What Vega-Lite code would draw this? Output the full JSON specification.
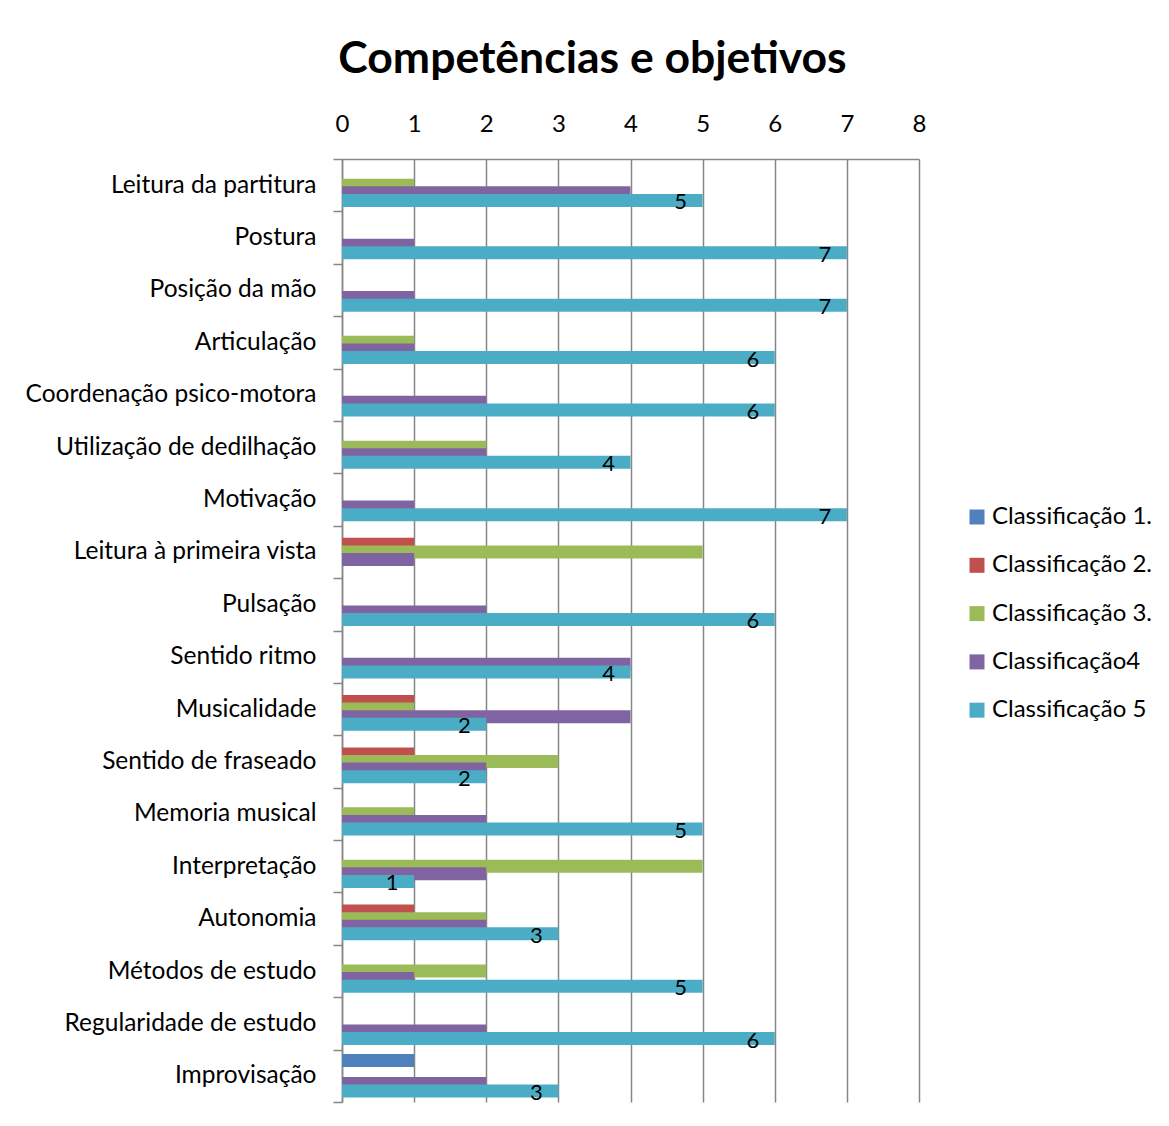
{
  "$schema": "https://vega.github.io/schema/vega-lite/v6.json",
  "autosize": {"type": "none"},
  "padding": {"left": 342, "top": 159, "right": 250, "bottom": 24},
  "width": 577,
  "height": 943,
  "background": "white",
  "title": {
    "text": "Competências e objetivos",
    "font": "Lato",
    "fontSize": 44.5,
    "fontWeight": "bold",
    "color": "#000000",
    "anchor": "middle",
    "dx": -38,
    "offset": 30
  },
  "config": {
    "view": {"stroke": null},
    "font": "Lato"
  },
  "data": {
    "values": [
      {"item": "Leitura da partitura", "serie": "Classificação 3.", "valor": 1},
      {"item": "Leitura da partitura", "serie": "Classificação4", "valor": 4},
      {"item": "Leitura da partitura", "serie": "Classificação 5", "valor": 5},
      {"item": "Postura", "serie": "Classificação4", "valor": 1},
      {"item": "Postura", "serie": "Classificação 5", "valor": 7},
      {"item": "Posição da mão", "serie": "Classificação4", "valor": 1},
      {"item": "Posição da mão", "serie": "Classificação 5", "valor": 7},
      {"item": "Articulação", "serie": "Classificação 3.", "valor": 1},
      {"item": "Articulação", "serie": "Classificação4", "valor": 1},
      {"item": "Articulação", "serie": "Classificação 5", "valor": 6},
      {"item": "Coordenação psico-motora", "serie": "Classificação4", "valor": 2},
      {"item": "Coordenação psico-motora", "serie": "Classificação 5", "valor": 6},
      {"item": "Utilização de dedilhação", "serie": "Classificação 3.", "valor": 2},
      {"item": "Utilização de dedilhação", "serie": "Classificação4", "valor": 2},
      {"item": "Utilização de dedilhação", "serie": "Classificação 5", "valor": 4},
      {"item": "Motivação", "serie": "Classificação4", "valor": 1},
      {"item": "Motivação", "serie": "Classificação 5", "valor": 7},
      {"item": "Leitura à primeira vista", "serie": "Classificação 2.", "valor": 1},
      {"item": "Leitura à primeira vista", "serie": "Classificação 3.", "valor": 5},
      {"item": "Leitura à primeira vista", "serie": "Classificação4", "valor": 1},
      {"item": "Pulsação", "serie": "Classificação4", "valor": 2},
      {"item": "Pulsação", "serie": "Classificação 5", "valor": 6},
      {"item": "Sentido ritmo", "serie": "Classificação4", "valor": 4},
      {"item": "Sentido ritmo", "serie": "Classificação 5", "valor": 4},
      {"item": "Musicalidade", "serie": "Classificação 2.", "valor": 1},
      {"item": "Musicalidade", "serie": "Classificação 3.", "valor": 1},
      {"item": "Musicalidade", "serie": "Classificação4", "valor": 4},
      {"item": "Musicalidade", "serie": "Classificação 5", "valor": 2},
      {"item": "Sentido de fraseado", "serie": "Classificação 2.", "valor": 1},
      {"item": "Sentido de fraseado", "serie": "Classificação 3.", "valor": 3},
      {"item": "Sentido de fraseado", "serie": "Classificação4", "valor": 2},
      {"item": "Sentido de fraseado", "serie": "Classificação 5", "valor": 2},
      {"item": "Memoria musical", "serie": "Classificação 3.", "valor": 1},
      {"item": "Memoria musical", "serie": "Classificação4", "valor": 2},
      {"item": "Memoria musical", "serie": "Classificação 5", "valor": 5},
      {"item": "Interpretação", "serie": "Classificação 3.", "valor": 5},
      {"item": "Interpretação", "serie": "Classificação4", "valor": 2},
      {"item": "Interpretação", "serie": "Classificação 5", "valor": 1},
      {"item": "Autonomia", "serie": "Classificação 2.", "valor": 1},
      {"item": "Autonomia", "serie": "Classificação 3.", "valor": 2},
      {"item": "Autonomia", "serie": "Classificação4", "valor": 2},
      {"item": "Autonomia", "serie": "Classificação 5", "valor": 3},
      {"item": "Métodos de estudo", "serie": "Classificação 3.", "valor": 2},
      {"item": "Métodos de estudo", "serie": "Classificação4", "valor": 1},
      {"item": "Métodos de estudo", "serie": "Classificação 5", "valor": 5},
      {"item": "Regularidade de estudo", "serie": "Classificação4", "valor": 2},
      {"item": "Regularidade de estudo", "serie": "Classificação 5", "valor": 6},
      {"item": "Improvisação", "serie": "Classificação 1.", "valor": 1},
      {"item": "Improvisação", "serie": "Classificação4", "valor": 2},
      {"item": "Improvisação", "serie": "Classificação 5", "valor": 3}
    ]
  },
  "encoding": {
    "y": {
      "field": "item",
      "type": "nominal",
      "sort": null,
      "scale": {"paddingInner": 0, "paddingOuter": 0},
      "axis": {
        "title": null,
        "orient": "left",
        "tickBand": "extent",
        "tickSize": 9,
        "tickColor": "#868686",
        "tickWidth": 1.5,
        "domainColor": "#868686",
        "domainWidth": 1.5,
        "labelFont": "Lato",
        "labelFontSize": 24.5,
        "labelColor": "#000000",
        "labelPadding": 17,
        "labelLimit": 0,
        "grid": false
      }
    },
    "yOffset": {
      "field": "serie",
      "type": "nominal",
      "sort": ["Classificação 1.", "Classificação 2.", "Classificação 3.", "Classificação4", "Classificação 5"],
      "scale": {
        "domain": ["Classificação 1.", "Classificação 2.", "Classificação 3.", "Classificação4", "Classificação 5"],
        "paddingInner": 0,
        "paddingOuter": 0.95
      }
    },
    "x": {
      "field": "valor",
      "type": "quantitative",
      "scale": {"domain": [0, 8], "nice": false},
      "axis": {
        "title": null,
        "orient": "top",
        "values": [0, 1, 2, 3, 4, 5, 6, 7, 8],
        "format": "d",
        "ticks": false,
        "tickSize": 0,
        "labelFlush": false,
        "grid": true,
        "gridColor": "#868686",
        "gridWidth": 1.5,
        "domainColor": "#868686",
        "domainWidth": 1.5,
        "labelFont": "Lato",
        "labelFontSize": 24,
        "labelColor": "#000000",
        "labelPadding": 23
      }
    }
  },
  "layer": [
    {
      "mark": {"type": "bar", "height": 13},
      "encoding": {
        "color": {
          "field": "serie",
          "type": "nominal",
          "scale": {
            "domain": ["Classificação 1.", "Classificação 2.", "Classificação 3.", "Classificação4", "Classificação 5"],
            "range": ["#4F81BD", "#C0504D", "#9BBB59", "#8064A2", "#4BACC6"]
          },
          "legend": {
            "title": null,
            "orient": "none",
            "legendX": 623,
            "legendY": 346,
            "symbolType": "square",
            "symbolSize": 225,
            "symbolStrokeWidth": 0,
            "labelFont": "Lato",
            "labelFontSize": 24,
            "labelColor": "#000000",
            "labelOffset": 3,
            "labelLimit": 0,
            "rowPadding": 24.3
          }
        }
      }
    },
    {
      "transform": [{"filter": "datum.serie === 'Classificação 5'"}],
      "mark": {
        "type": "text",
        "font": "Lato",
        "fontSize": 22,
        "color": "#000000",
        "align": "center",
        "baseline": "middle",
        "dx": -22,
        "dy": 2
      },
      "encoding": {
        "text": {"field": "valor", "type": "quantitative"}
      }
    }
  ]
}
